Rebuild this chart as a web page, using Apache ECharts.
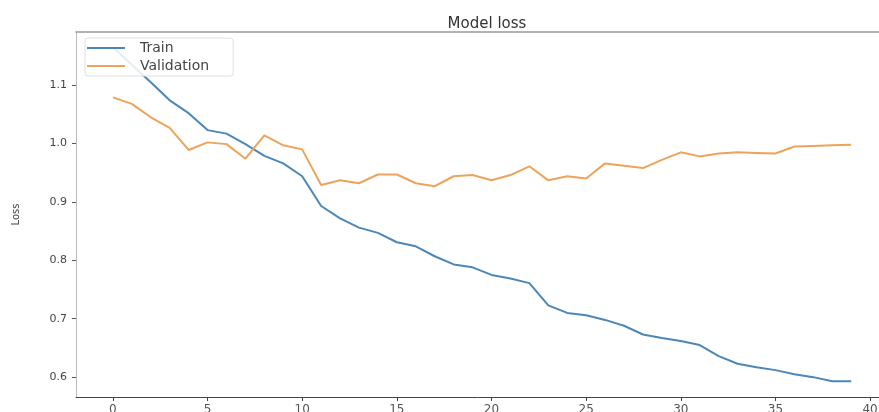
<!DOCTYPE html>
<html>
<head>
<meta charset="utf-8">
<script src="https://cdn.jsdelivr.net/npm/echarts@6/dist/echarts.min.js"></script>
<style>html,body{margin:0;padding:0;background:#fff}#c{width:879px;height:412px}</style>
</head>
<body>
<div id="c"></div>
<script>
const epochs = Array.from({length: 40}, (_, i) => i);
const trainLoss = [1.165, 1.135, 1.105, 1.074, 1.052, 1.023, 1.017, 0.999, 0.979, 0.966,
  0.944, 0.893, 0.872, 0.856, 0.847, 0.831, 0.824, 0.807, 0.793, 0.788,
  0.775, 0.769, 0.761, 0.723, 0.710, 0.706, 0.698, 0.688, 0.673, 0.667,
  0.662, 0.655, 0.636, 0.623, 0.617, 0.612, 0.605, 0.600, 0.593, 0.593];
const valLoss = [1.079, 1.068, 1.045, 1.027, 0.989, 1.002, 0.999, 0.974, 1.014, 0.997,
  0.990, 0.929, 0.937, 0.932, 0.947, 0.947, 0.932, 0.927, 0.944, 0.946,
  0.937, 0.946, 0.961, 0.937, 0.944, 0.940, 0.966, 0.962, 0.958, 0.972,
  0.985, 0.978, 0.983, 0.985, 0.984, 0.983, 0.995, 0.996, 0.997, 0.998];
const xTicks = [0, 5, 10, 15, 20, 25, 30, 35, 40];
const yTicks = [0.6, 0.7, 0.8, 0.9, 1.0, 1.1];
const seriesNames = ['Train', 'Validation'];

const chart = echarts.init(document.getElementById('c'));
const font = 'DejaVu Sans';
chart.setOption({
  animation: false,
  backgroundColor: '#fff',
  title: {
    text: 'Model loss', left: 482, top: 12, textAlign: 'center',
    textStyle: {fontFamily: font, fontSize: 15, fontWeight: 'normal', color: '#333'}
  },
  legend: {
    data: seriesNames, orient: 'vertical', left: 85, top: 38,
    backgroundColor: 'rgba(255,255,255,0.85)', borderColor: '#e0e0e0', borderWidth: 1, borderRadius: 3,
    padding: [3, 24, 3, 2], itemGap: 4, itemWidth: 38, itemHeight: 2, icon: 'rect',
    textStyle: {fontFamily: font, fontSize: 14, color: '#444', padding: [0, 0, 0, 10]}
  },
  grid: {left: 76, top: 32, width: 803, height: 365, show: false, outerBoundsMode: 'none', containLabel: false},
  xAxis: [{
    type: 'value', min: -1.95, max: 40.47,
    axisLine: {onZero: false, lineStyle: {color: '#444'}},
    axisTick: {show: true, customValues: xTicks, length: 4, lineStyle: {color: '#444'}},
    axisLabel: {customValues: xTicks, margin: 7, fontFamily: font, fontSize: 12, color: '#555'},
    splitLine: {show: false}
  }, {
    type: 'value', position: 'top', min: -1.95, max: 40.47,
    axisLine: {show: true, onZero: false, lineStyle: {color: '#999', width: 1.5}},
    axisTick: {show: false}, axisLabel: {show: false}, splitLine: {show: false}
  }],
  yAxis: {
    type: 'value', min: 0.566, max: 1.191,
    name: 'Loss', nameLocation: 'middle', nameRotate: 90, nameGap: 55,
    nameTextStyle: {fontFamily: font, fontSize: 10, color: '#444'},
    axisLine: {show: true, onZero: false, lineStyle: {color: '#bbb'}},
    axisTick: {show: true, customValues: yTicks, length: 4, lineStyle: {color: '#555'}},
    axisLabel: {customValues: yTicks, margin: 9, fontFamily: font, fontSize: 11, color: '#444',
      formatter: v => v.toFixed(1)},
    splitLine: {show: false}
  },
  series: [
    {name: seriesNames[0], type: 'line', showSymbol: false, color: '#4c87b6',
      lineStyle: {width: 2, color: '#4c87b6'},
      data: epochs.map((e, i) => [e, trainLoss[i]])},
    {name: seriesNames[1], type: 'line', showSymbol: false, color: '#eda45a',
      lineStyle: {width: 2, color: '#eda45a'},
      data: epochs.map((e, i) => [e, valLoss[i]])}
  ]
});
</script>
</body>
</html>
